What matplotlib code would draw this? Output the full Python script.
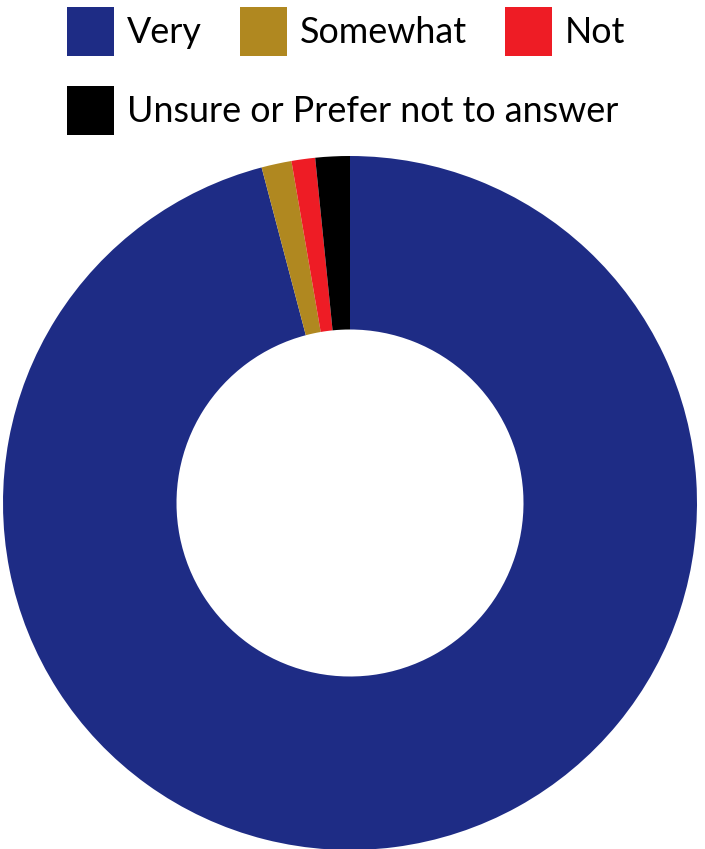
import matplotlib.pyplot as plt
from matplotlib.patches import Patch

labels = ['Very', 'Somewhat', 'Not', 'Unsure or Prefer not to answer']
values = [95.9, 1.4, 1.1, 1.6]
colors = ['#1e2c85', '#b08820', '#ee1c25', '#000000']

plt.rcParams['font.family'] = ['Lato', 'DejaVu Sans']

W, H = 705, 849
fig = plt.figure(figsize=(W / 100, H / 100), dpi=100)

# donut: centre ~ (350, 503) px, outer radius ~347 px
cx, cy, r = 350, 503, 347
ax = fig.add_axes([(cx - r) / W, (H - cy - r) / H, 2 * r / W, 2 * r / H])
ax.pie(values, colors=colors, startangle=90, counterclock=False,
       radius=1, wedgeprops=dict(width=0.5, linewidth=0))
ax.set_xlim(-1, 1)
ax.set_ylim(-1, 1)
ax.axis('off')

handles = [Patch(facecolor=c, edgecolor='none') for c in colors]
leg_kw = dict(frameon=False, fontsize=25.8, handlelength=1.32, handleheight=1.72,
              handletextpad=0.36, columnspacing=1.05, borderpad=0, borderaxespad=0)
leg1 = fig.legend(handles[:3], labels[:3], ncol=3, loc='upper left',
                  bbox_to_anchor=(67 / W, 1 - 7 / H), **leg_kw)
leg2 = fig.legend(handles[3:], labels[3:], ncol=1, loc='upper left',
                  bbox_to_anchor=(67 / W, 1 - 86 / H), **leg_kw)

fig.savefig('out.png', dpi=100)
